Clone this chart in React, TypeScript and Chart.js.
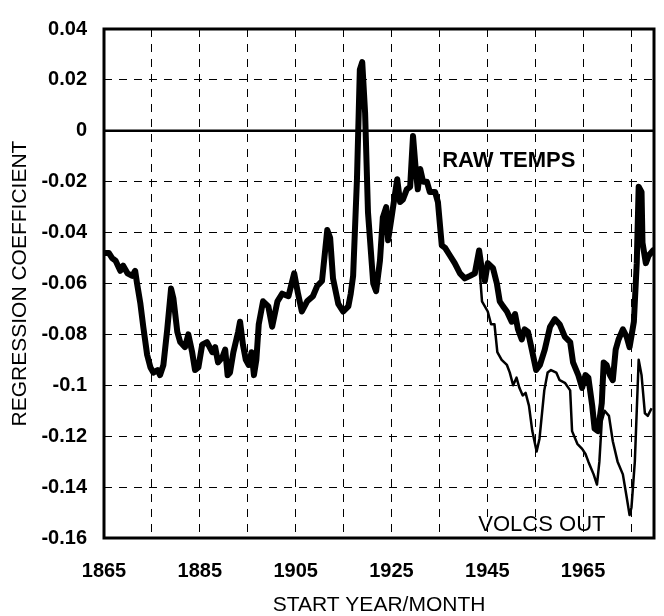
import React, { useEffect, useRef } from 'react';
import { Chart, registerables } from 'chart.js';

Chart.register(...registerables);

const seriesLabels = ['RAW TEMPS', 'VOLCS OUT'];

const rawYears = [
  1865.0, 1866.0, 1866.7, 1867.4, 1868.4, 1869.0, 1869.9, 1870.9, 1871.5, 1871.9,
  1872.6, 1873.2, 1874.0, 1874.7, 1875.3, 1876.2, 1876.7, 1877.4, 1878.2, 1879.0,
  1879.5, 1880.3, 1880.9, 1881.9, 1882.6, 1883.4, 1884.0, 1884.7, 1885.5, 1886.5,
  1887.6, 1888.2, 1888.8, 1889.7, 1890.3, 1890.8, 1891.3, 1892.0, 1893.0, 1893.4,
  1894.0, 1894.6, 1895.2, 1895.8, 1896.3, 1896.8, 1897.3, 1898.2, 1899.3, 1900.1,
  1901.2, 1902.2, 1903.5, 1904.7, 1905.5, 1906.3, 1907.4, 1908.6, 1909.5, 1910.5,
  1911.6, 1912.2, 1912.8, 1913.9, 1914.9, 1916.0, 1916.5, 1917.0, 1917.8, 1918.4,
  1918.9, 1919.5, 1920.1, 1921.2, 1921.8, 1922.6, 1923.2, 1923.9, 1924.3, 1925.1,
  1926.2, 1926.8, 1927.4, 1928.2, 1928.9, 1929.5, 1930.1, 1930.5, 1931.0, 1931.6,
  1932.4, 1933.0, 1934.1, 1934.7, 1935.5, 1936.2, 1937.2, 1938.2, 1939.3, 1940.3,
  1941.4, 1942.4, 1943.3, 1943.9, 1944.5, 1945.1, 1946.2, 1947.0, 1947.6, 1948.3,
  1949.1, 1950.1, 1950.8, 1951.4, 1952.2, 1952.8, 1953.5, 1954.3, 1955.2, 1956.0,
  1957.0, 1958.1, 1959.1, 1960.1, 1961.2, 1962.3, 1962.9, 1964.0, 1964.8, 1965.5,
  1966.1, 1966.9, 1967.4, 1968.1, 1968.9, 1969.3, 1969.9, 1970.6, 1971.2, 1971.8,
  1972.4, 1973.3, 1974.1, 1974.7, 1975.6, 1976.2, 1976.6, 1977.2, 1977.4, 1978.1,
  1978.7, 1979.6,
];

const rawValues = [
  -0.048, -0.048, -0.050, -0.051, -0.055, -0.053, -0.056, -0.057, -0.055, -0.060,
  -0.068, -0.077, -0.088, -0.093, -0.095, -0.094, -0.096, -0.092, -0.078, -0.062,
  -0.066, -0.079, -0.083, -0.085, -0.080, -0.087, -0.094, -0.093, -0.084, -0.083,
  -0.087, -0.085, -0.091, -0.089, -0.086, -0.096, -0.095, -0.087, -0.079, -0.075,
  -0.084, -0.090, -0.092, -0.087, -0.096, -0.090, -0.076, -0.067, -0.069, -0.077,
  -0.067, -0.064, -0.065, -0.056, -0.064, -0.071, -0.067, -0.065, -0.061, -0.059,
  -0.039, -0.042, -0.058, -0.068, -0.071, -0.069, -0.064, -0.057, -0.019, 0.024,
  0.027, 0.007, -0.032, -0.060, -0.063, -0.051, -0.034, -0.030, -0.043, -0.033,
  -0.019, -0.028, -0.027, -0.023, -0.022, -0.002, -0.016, -0.023, -0.015, -0.020,
  -0.020, -0.024, -0.024, -0.028, -0.045, -0.046, -0.049, -0.052, -0.056, -0.058,
  -0.057, -0.056, -0.047, -0.055, -0.059, -0.052, -0.054, -0.060, -0.067, -0.069,
  -0.071, -0.075, -0.072, -0.078, -0.082, -0.078, -0.079, -0.086, -0.094, -0.092,
  -0.086, -0.077, -0.074, -0.076, -0.081, -0.083, -0.091, -0.096, -0.101, -0.096,
  -0.097, -0.108, -0.117, -0.118, -0.107, -0.091, -0.092, -0.096, -0.098, -0.086,
  -0.082, -0.078, -0.081, -0.085, -0.075, -0.052, -0.022, -0.024, -0.044, -0.052,
  -0.049, -0.047,
];

const volcYears = [
  1942.4, 1943.3, 1943.9, 1945.1, 1945.8, 1946.5, 1947.1, 1948.0, 1949.1, 1949.7,
  1950.4, 1951.1, 1951.7, 1952.4, 1953.0, 1953.7, 1954.4, 1955.3, 1955.9, 1956.9,
  1957.6, 1958.3, 1959.4, 1960.1, 1961.2, 1962.3, 1962.7, 1963.8, 1964.8, 1965.5,
  1966.1, 1967.2, 1967.9, 1968.4, 1968.9, 1969.5, 1970.4, 1971.2, 1972.2, 1973.3,
  1974.1, 1974.7, 1975.1, 1975.8, 1976.6, 1977.2, 1977.9, 1978.5, 1979.3,
];

const volcValues = [
  -0.056, -0.052, -0.067, -0.071, -0.076, -0.076, -0.087, -0.090, -0.092, -0.095,
  -0.100, -0.097, -0.101, -0.104, -0.103, -0.108, -0.118, -0.126, -0.121, -0.102,
  -0.095, -0.094, -0.095, -0.098, -0.099, -0.102, -0.118, -0.123, -0.125, -0.127,
  -0.130, -0.135, -0.139, -0.130, -0.114, -0.110, -0.112, -0.122, -0.130, -0.135,
  -0.144, -0.151, -0.148, -0.130, -0.090, -0.096, -0.111, -0.112, -0.109,
];

const xGridYears = [1865, 1875, 1885, 1895, 1905, 1915, 1925, 1935, 1945, 1955, 1965, 1975];
const xLabelYears = [1865, 1885, 1905, 1925, 1945, 1965];
const yTicks = [-0.16, -0.14, -0.12, -0.1, -0.08, -0.06, -0.04, -0.02, 0, 0.02, 0.04];
const yTickLabels = ['-0.16', '-0.14', '-0.12', '-0.1', '-0.08', '-0.06', '-0.04', '-0.02', '0', '0.02', '0.04'];

const xTitle = 'START YEAR/MONTH';
const yTitle = 'REGRESSION COEFFICIENT';

// annotation anchors in data units: [year, value]
const rawLabelAt = [1949.5, -0.0118];
const volcLabelAt = [1956.4, -0.155];

const FONT = '"Liberation Sans", Arial, Helvetica, sans-serif';

const framePlugin = {
  id: 'frameAndLabels',
  afterDatasetsDraw(chart: any) {
    const { ctx, chartArea: a, scales } = chart;
    ctx.save();
    ctx.strokeStyle = '#000';
    ctx.setLineDash([]);
    const y0 = scales.y.getPixelForValue(0);
    ctx.lineWidth = 2.5;
    ctx.beginPath();
    ctx.moveTo(a.left, y0);
    ctx.lineTo(a.right, y0);
    ctx.stroke();
    ctx.lineWidth = 3;
    ctx.strokeRect(a.left, a.top, a.right - a.left, a.bottom - a.top);

    ctx.fillStyle = '#000';
    ctx.textAlign = 'center';
    ctx.textBaseline = 'middle';
    ctx.font = `bold 22px ${FONT}`;
    ctx.fillText(
      seriesLabels[0],
      scales.x.getPixelForValue(rawLabelAt[0]),
      scales.y.getPixelForValue(rawLabelAt[1])
    );
    ctx.font = `22px ${FONT}`;
    ctx.fillText(
      seriesLabels[1],
      scales.x.getPixelForValue(volcLabelAt[0]),
      scales.y.getPixelForValue(volcLabelAt[1])
    );
    ctx.restore();
  },
};

export default function App() {
  const canvasRef = useRef<HTMLCanvasElement | null>(null);

  useEffect(() => {
    document.body.style.margin = '0';
    const canvas = canvasRef.current;
    if (!canvas) return;

    const rawData = rawYears.map((x, i) => ({ x, y: rawValues[i] }));
    const volcData = volcYears.map((x, i) => ({ x, y: volcValues[i] }));

    const chart = new Chart(canvas, {
      type: 'line',
      data: {
        datasets: [
          {
            label: seriesLabels[0],
            data: rawData,
            borderColor: '#000',
            borderWidth: 6,
            borderJoinStyle: 'round',
            borderCapStyle: 'round',
            pointRadius: 0,
            tension: 0,
            fill: false,
          },
          {
            label: seriesLabels[1],
            data: volcData,
            borderColor: '#000',
            borderWidth: 2.5,
            borderJoinStyle: 'round',
            pointRadius: 0,
            tension: 0,
            fill: false,
          },
        ],
      },
      options: {
        responsive: false,
        animation: false,
        devicePixelRatio: 1,
        events: [],
        layout: { padding: { left: 0, right: 10, top: 21, bottom: 0 } },
        plugins: {
          legend: { display: false },
          tooltip: { enabled: false },
          title: { display: false },
        },
        scales: {
          x: {
            type: 'linear',
            min: 1865,
            max: 1979.8,
            afterBuildTicks: (scale: any) => {
              scale.ticks = xGridYears.map((v) => ({ value: v }));
            },
            afterFit: (scale: any) => {
              scale.height = 78;
            },
            ticks: {
              autoSkip: false,
              maxRotation: 0,
              padding: 21,
              color: '#000',
              font: { family: FONT, size: 20, weight: 'bold' },
              callback: (v: any) => (xLabelYears.includes(v) ? String(v) : ''),
            },
            grid: { color: '#000', lineWidth: 1, drawTicks: false },
            border: { display: false, dash: [8, 7] },
            title: {
              display: true,
              text: xTitle,
              color: '#000',
              font: { family: FONT, size: 21, lineHeight: 1 },
              padding: { top: 9, bottom: 0 },
            },
          },
          y: {
            type: 'linear',
            min: -0.16,
            max: 0.04,
            afterBuildTicks: (scale: any) => {
              scale.ticks = yTicks.map((v) => ({ value: v }));
            },
            afterFit: (scale: any) => {
              scale.width = 104;
            },
            ticks: {
              autoSkip: false,
              padding: 17,
              color: '#000',
              font: { family: FONT, size: 20, weight: 'bold' },
              callback: (_v: any, i: number) => yTickLabels[i],
            },
            grid: { color: '#000', lineWidth: 1, drawTicks: false },
            border: { display: false, dash: [8, 7] },
            title: {
              display: true,
              text: yTitle,
              color: '#000',
              font: { family: FONT, size: 21 },
              padding: { top: 8, bottom: 0 },
            },
          },
        },
      },
      plugins: [framePlugin],
    });

    return () => chart.destroy();
  }, []);

  return (
    <div style={{ width: 664, height: 616 }}>
      <canvas ref={canvasRef} width={664} height={616} style={{ display: 'block' }} />
    </div>
  );
}
